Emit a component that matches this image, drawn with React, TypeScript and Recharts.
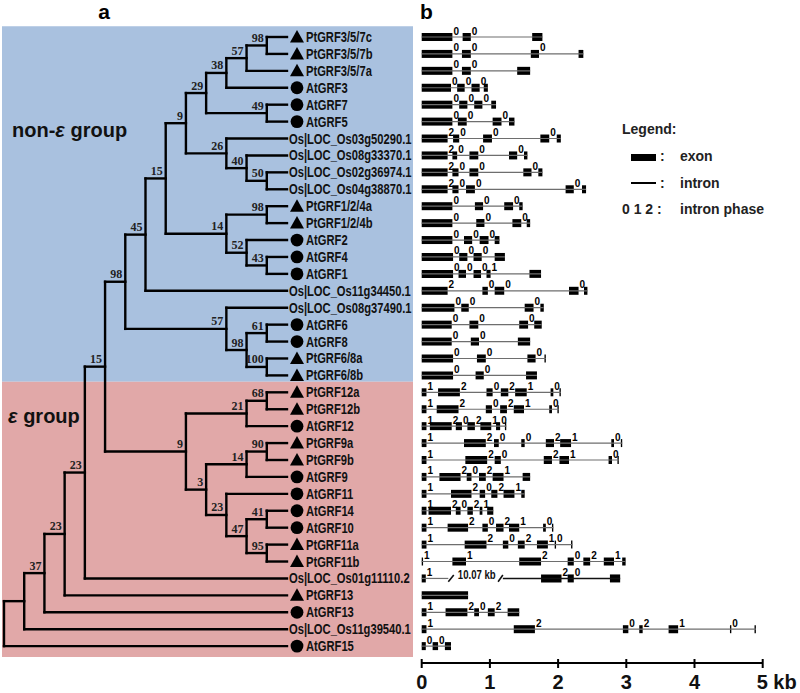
import { ComposedChart, XAxis, YAxis, Scatter, ReferenceLine, ReferenceArea } from "recharts";

// ---- phylogeny (Newick, bootstrap values as internal labels) ----
const cladeGRF357 = "(((PtGRF3/5/7c,PtGRF3/5/7b)98,PtGRF3/5/7a)57,AtGRF3)38";
const cladeGRF57 = "(AtGRF7,AtGRF5)49";
const cladeOsA = "(Os|LOC_Os03g50290.1,(Os|LOC_Os08g33370.1,(Os|LOC_Os02g36974.1,Os|LOC_Os04g38870.1)50)40)26";
const cladeGRF124 = "((PtGRF1/2/4a,PtGRF1/2/4b)98,(AtGRF2,(AtGRF4,AtGRF1)43)52)14";
const cladeGRF68 = "(Os|LOC_Os08g37490.1,((AtGRF6,AtGRF8)61,(PtGRF6/8a,PtGRF6/8b)100)98)57";
const cladeEps = "(((PtGRF12a,PtGRF12b)68,AtGRF12)21,(((PtGRF9a,PtGRF9b)90,AtGRF9)14,(AtGRF11,((AtGRF14,AtGRF10)41,(PtGRF11a,PtGRF11b)95)47)23)3)9";
const cladeNonEps = `((((${cladeGRF357},${cladeGRF57})29,${cladeOsA})9,${cladeGRF124})15,Os|LOC_Os11g34450.1)45`;
const newick = `(((((((${cladeNonEps},${cladeGRF68})98,${cladeEps})15,Os|LOC_Os01g11110.2)23,PtGRF13)23,AtGRF13)37,Os|LOC_Os11g39540.1),AtGRF15);`;

// shaded groups, by leaf index (top to bottom)
const groupNames = ["non-ε group", "ε group"];
const groupFirst = [0, 21];
const groupLast = [20, 36];

// ---- gene structures, kb, one row per leaf in tree order ----
const exonRows: number[][][] = [
  [[0, 0.45], [0.6, 0.72], [1.62, 1.77]], // PtGRF3/5/7c
  [[0, 0.45], [0.59, 0.72], [1.6, 1.72], [2.3, 2.37]], // PtGRF3/5/7b
  [[0, 0.45], [0.59, 0.72], [1.4, 1.59]], // PtGRF3/5/7a
  [[0, 0.43], [0.52, 0.63], [0.73, 0.85], [0.91, 0.97]], // AtGRF3
  [[0, 0.45], [0.55, 0.67], [0.77, 0.89], [1.02, 1.09]], // AtGRF7
  [[0, 0.45], [0.53, 0.66], [1.04, 1.17], [1.28, 1.36]], // AtGRF5
  [[0, 0.38], [0.46, 0.55], [0.9, 1.03], [1.74, 1.87], [1.98, 2.04]], // Os03g50290.1
  [[0, 0.38], [0.45, 0.52], [0.7, 0.83], [1.28, 1.4], [1.5, 1.55]], // Os08g33370.1
  [[0, 0.38], [0.45, 0.54], [0.7, 0.83], [1.49, 1.61], [1.71, 1.77]], // Os02g36974.1
  [[0, 0.38], [0.45, 0.54], [0.65, 0.78], [2.11, 2.23], [2.35, 2.41]], // Os04g38870.1
  [[0, 0.45], [0.78, 0.9], [1.21, 1.34], [1.43, 1.48]], // PtGRF1/2/4a
  [[0, 0.45], [0.8, 0.92], [1.33, 1.46], [1.54, 1.59]], // PtGRF1/2/4b
  [[0, 0.45], [0.62, 0.74], [0.85, 0.98], [1.07, 1.14]], // AtGRF2
  [[0, 0.46], [0.55, 0.67], [0.76, 0.88], [1.07, 1.22]], // AtGRF4
  [[0, 0.46], [0.54, 0.65], [0.76, 0.87], [0.95, 1.01], [1.58, 1.75]], // AtGRF1
  [[0, 0.38], [0.89, 0.97], [1.07, 1.21], [2.16, 2.3], [2.38, 2.43]], // Os11g34450.1
  [[0, 0.48], [0.58, 0.69], [1.51, 1.64], [1.74, 1.79]], // Os08g37490.1
  [[0, 0.44], [0.7, 0.83], [1.43, 1.56], [1.65, 1.76]], // AtGRF6
  [[0, 0.44], [0.72, 0.84], [1.41, 1.59]], // AtGRF8
  [[0, 0.46], [0.81, 0.94], [1.55, 1.67], [1.8, 1.82]], // PtGRF6/8a
  [[0, 0.46], [0.79, 0.91], [1.53, 1.69]], // PtGRF6/8b
  [[0, 0.07], [0.24, 0.56], [0.95, 1.04], [1.16, 1.27], [1.37, 1.54], [1.89, 1.93], [2.02, 2.04]], // PtGRF12a
  [[0, 0.07], [0.22, 0.54], [0.94, 1.03], [1.15, 1.25], [1.35, 1.5], [1.87, 1.91], [1.99, 2.01]], // PtGRF12b
  [[0, 0.07], [0.12, 0.44], [0.5, 0.59], [0.67, 0.78], [0.86, 1.02], [1.09, 1.15], [1.22, 1.24]], // AtGRF12
  [[0, 0.07], [0.62, 0.94], [1.06, 1.13], [1.46, 1.51], [1.82, 1.94], [2.03, 2.19], [2.78, 2.82], [2.92, 2.94]], // PtGRF9a
  [[0, 0.07], [0.64, 0.96], [1.07, 1.16], [1.79, 1.91], [2.02, 2.16], [2.74, 2.79], [2.87, 2.89]], // PtGRF9b
  [[0, 0.07], [0.26, 0.57], [0.66, 0.73], [0.84, 0.94], [1.04, 1.2], [1.48, 1.59]], // AtGRF9
  [[0, 0.07], [0.43, 0.73], [0.85, 0.93], [1.02, 1.11], [1.2, 1.36], [1.46, 1.51]], // AtGRF11
  [[0, 0.07], [0.1, 0.43], [0.5, 0.57], [0.67, 0.75], [0.85, 0.89], [0.96, 1.05]], // AtGRF14
  [[0, 0.07], [0.38, 0.68], [0.89, 0.97], [1.09, 1.2], [1.28, 1.43], [1.78, 1.82], [1.91, 1.93]], // AtGRF10
  [[0, 0.07], [0.63, 0.95], [1.19, 1.27], [1.41, 1.51], [1.69, 1.85], [1.95, 1.97], [2.19, 2.21]], // PtGRF11a
  [[0, 0.02], [0.45, 0.65], [1.43, 1.75], [2.14, 2.23], [2.37, 2.47], [2.67, 2.82], [2.94, 2.99]], // PtGRF11b
  [[0, 0.06], [1.75, 2.05], [2.14, 2.23], [2.76, 2.91]], // Os01g11110.2
  [[0, 0.68]], // PtGRF13
  [[0, 0.07], [0.35, 0.67], [0.77, 0.84], [0.97, 1.07], [1.26, 1.43]], // AtGRF13
  [[0, 0.07], [1.35, 1.66], [2.95, 3.03], [3.19, 3.24], [3.62, 3.76], [4.52, 4.54], [4.88, 4.9]], // Os11g39540.1
  [[0, 0.06], [0.16, 0.24], [0.34, 0.43]], // AtGRF15
];

// intron phase after each exon (except the last)
const phaseRows: number[][] = [
  [0, 0], [0, 0, 0], [0, 0], [0, 0, 0], [0, 0, 0], [0, 0, 0],
  [2, 0, 0, 0], [2, 0, 0, 0], [2, 0, 0, 0], [2, 0, 0, 0],
  [0, 0, 0], [0, 0, 0], [0, 0, 0], [0, 0, 0], [0, 0, 0, 1],
  [2, 0, 0, 0], [0, 0, 0], [0, 0, 0], [0, 0], [0, 0, 0], [0, 0],
  [1, 2, 0, 2, 1, 0], [1, 2, 0, 2, 1, 0], [1, 2, 0, 2, 1, 0],
  [1, 2, 0, 0, 2, 1, 0], [1, 2, 0, 2, 1, 0], [1, 2, 0, 2, 1], [1, 2, 0, 2, 1], [1, 2, 0, 2, 1],
  [1, 2, 0, 2, 1, 0], [1, 2, 0, 2, 1, 0], [1, 1, 2, 0, 2, 1],
  [1, 2, 0], [], [1, 2, 0, 2], [1, 2, 0, 2, 1, 0], [0, 0],
];

// the one long intron that is drawn broken
const breakRow = 32;
const breakGap = [0.39, 1.19];
const breakText = "10.07 kb";
const breakTextAt = 0.53;

const kbTicks = [0, 1, 2, 3, 4, 5];

// ---- layout ----
const W = 800;
const H = 693;
const AXIS_H = 30;
const ROW = 16.92;
const ROW0 = 37;
const yDomain = [-ROW0 / ROW, (H - AXIS_H - ROW0) / ROW];
const TREE_W = 415;
const STEP = 20.214;
const X0 = 4;
const treeDomain = [-X0 / STEP, (TREE_W - X0) / STEP];
const EXON_HALF = 4 / ROW;

const SANS = "'Liberation Sans', Arial, sans-serif";
const SERIF = "'Liberation Serif', 'DejaVu Serif', serif";
const BAND_COLORS = ["#a9c1df", "#e1a8a8"];

type TNode = { name?: string; boot?: number; children: TNode[]; x: number; y: number; h: number };

function parseNewick(src: string): TNode {
  let i = 0;
  const label = () => {
    let s = "";
    while (i < src.length && !",();".includes(src[i])) s += src[i++];
    return s;
  };
  const node = (): TNode => {
    if (src[i] === "(") {
      i++;
      const children: TNode[] = [];
      for (;;) {
        children.push(node());
        if (src[i] === ",") { i++; continue; }
        break;
      }
      i++;
      const lab = label();
      return { children, boot: lab ? Number(lab) : undefined, x: 0, y: 0, h: 0 };
    }
    return { name: label(), children: [], x: 0, y: 0, h: 0 };
  };
  return node();
}

const root = parseNewick(newick);
const leaves: TNode[] = [];
const internals: TNode[] = [];
(function place(n: TNode) {
  if (!n.children.length) { n.y = leaves.length; leaves.push(n); return; }
  n.children.forEach(place);
  n.h = 1 + Math.max(...n.children.map((c) => c.h));
  n.y = (n.children[0].y + n.children[n.children.length - 1].y) / 2;
  internals.push(n);
})(root);
[...leaves, ...internals].forEach((n) => { n.x = root.h - n.h; });

const edges: { x1: number; y1: number; x2: number; y2: number }[] = [];
internals.forEach((n) => {
  const ys = n.children.map((c) => c.y);
  edges.push({ x1: n.x, y1: Math.min(...ys), x2: n.x, y2: Math.max(...ys) });
  n.children.forEach((c) => edges.push({ x1: n.x, y1: c.y, x2: c.x, y2: c.y }));
});

const leafPts = leaves.map((l) => ({ x: l.x, y: l.y, name: l.name }));
const bootPts = internals.filter((n) => n.boot !== undefined).map((n) => ({ x: n.x, y: n.y, boot: n.boot }));

const phasePts = exonRows.flatMap((row, r) =>
  phaseRows[r].map((p, k) => ({ x: row[k][1], y: r, phase: p }))
);

const introns = exonRows.flatMap((row, r) => {
  const s = row[0][0];
  const e = row[row.length - 1][1];
  if (r === breakRow) return [{ r, a: s, b: breakGap[0], dark: false }, { r, a: breakGap[1], b: e, dark: true }];
  return [{ r, a: s, b: e, dark: false }];
});

// condensed sans text (Arial Narrow look) by horizontal scaling
const Narrow = ({ x, y, size, bold, children }: any) => (
  <text
    transform={`translate(${x},${y}) scale(0.8,1)`}
    fontSize={size}
    fontWeight={bold ? "bold" : "normal"}
    fontFamily={SANS}
    fill="#111"
  >
    {children}
  </text>
);

const LeafShape = (p: any) => {
  const { cx, cy, payload } = p;
  const sp = String(payload.name).slice(0, 2);
  const mx = cx + 10;
  return (
    <g>
      {sp === "Pt" && <polygon points={`${mx},${cy - 7} ${mx - 7},${cy + 5.5} ${mx + 7},${cy + 5.5}`} fill="#000" />}
      {sp === "At" && <circle cx={mx} cy={cy} r={6.4} fill="#000" />}
      <Narrow x={sp === "Os" ? cx + 2 : cx + 19} y={cy + 5} size={14} bold>
        {payload.name}
      </Narrow>
    </g>
  );
};

const BootShape = (p: any) => (
  <text x={p.cx - 3} y={p.cy - 3.5} textAnchor="end" fontSize={12} fontWeight="bold" fontFamily={SERIF} fill="#222">
    {p.payload.boot}
  </text>
);

const PhaseShape = (p: any) => (
  <text x={p.cx + 1} y={p.cy - 2.5} fontSize={10} fontWeight="bold" fontFamily={SANS} fill="#000">
    {p.payload.phase}
  </text>
);

const BreakLabel = (p: any) => (
  <Narrow x={p.cx} y={p.cy + 1} size={12} bold>
    {p.payload.label}
  </Narrow>
);

const KbTick = (props: any) => {
  const { x, y, payload } = props;
  const last = payload.value === kbTicks[kbTicks.length - 1];
  return (
    <g>
      <line x1={x} x2={x} y1={y - 4} y2={y + 5} stroke="#000" strokeWidth={2} />
      <text x={last ? x - 6 : x} y={y + 26} textAnchor={last ? "start" : "middle"} fontSize={20} fontWeight="bold" fontFamily={SANS} fill="#111">
        {last ? `${payload.value} kb` : payload.value}
      </text>
    </g>
  );
};

export default function App() {
  return (
    <div style={{ position: "relative", width: W, height: H, background: "#fff" }}>
      <style>{"body{margin:0}"}</style>
      <div style={{ position: "absolute", left: 0, top: 0 }}>
        <ComposedChart width={W} height={H} margin={{ top: 0, right: W - TREE_W, bottom: AXIS_H, left: 0 }}>
          <XAxis type="number" dataKey="x" domain={treeDomain} hide allowDataOverflow />
          <YAxis type="number" dataKey="y" domain={yDomain} reversed hide allowDataOverflow />
          {groupNames.map((g, k) => (
            <ReferenceArea
              key={g}
              x1={-2 / STEP}
              x2={(TREE_W - 2 - X0) / STEP}
              y1={groupFirst[k] - (k === 0 ? 0.64 : 0.63)}
              y2={k === 0 ? groupFirst[1] - 0.63 : groupLast[k] + 0.64}
              fill={BAND_COLORS[k]}
              fillOpacity={1}
              stroke="none"
              ifOverflow="visible"
            />
          ))}
          {edges.map((e, k) => (
            <ReferenceLine
              key={k}
              segment={[{ x: e.x1, y: e.y1 }, { x: e.x2, y: e.y2 }]}
              stroke="#000"
              strokeWidth={2.4}
              strokeLinecap="square"
              ifOverflow="visible"
            />
          ))}
          <Scatter data={leafPts} shape={LeafShape} isAnimationActive={false} />
          <Scatter data={bootPts} shape={BootShape} isAnimationActive={false} />
        </ComposedChart>
      </div>
      <div style={{ position: "absolute", left: TREE_W, top: 0 }}>
        <ComposedChart width={W - TREE_W} height={H} margin={{ top: 0, right: 37.3, bottom: 0, left: 6.7 }}>
          <XAxis
            type="number"
            dataKey="x"
            domain={[0, 5]}
            ticks={kbTicks}
            interval={0}
            height={AXIS_H}
            tickLine={false}
            tickSize={0}
            tickMargin={0}
            tick={<KbTick />}
            axisLine={{ stroke: "#000", strokeWidth: 2 }}
            allowDataOverflow
          />
          <YAxis type="number" dataKey="y" domain={yDomain} reversed hide allowDataOverflow />
          {introns.map((s, k) => (
            <ReferenceLine
              key={`i${k}`}
              segment={[{ x: s.a, y: s.r }, { x: s.b, y: s.r }]}
              stroke={s.dark ? "#111" : "#6e6e6e"}
              strokeWidth={s.dark ? 1.6 : 1.2}
              ifOverflow="visible"
            />
          ))}
          <ReferenceLine
            segment={[{ x: breakGap[0], y: breakRow + 0.2 }, { x: breakGap[0] + 0.08, y: breakRow - 0.2 }]}
            stroke="#111"
            strokeWidth={1.6}
            ifOverflow="visible"
          />
          <ReferenceLine
            segment={[{ x: breakGap[1] - 0.07, y: breakRow + 0.2 }, { x: breakGap[1], y: breakRow - 0.2 }]}
            stroke="#111"
            strokeWidth={1.6}
            ifOverflow="visible"
          />
          {exonRows.flatMap((row, r) =>
            row.map(([a, b], k) => (
              <ReferenceArea
                key={`e${r}-${k}`}
                x1={a}
                x2={b}
                y1={r - EXON_HALF}
                y2={r + EXON_HALF}
                fill="#000"
                fillOpacity={1}
                stroke="none"
                ifOverflow="visible"
              />
            ))
          )}
          <Scatter data={phasePts} shape={PhaseShape} isAnimationActive={false} />
          <Scatter data={[{ x: breakTextAt, y: breakRow, label: breakText }]} shape={BreakLabel} isAnimationActive={false} />
        </ComposedChart>
      </div>
      <svg width={W} height={H} style={{ position: "absolute", left: 0, top: 0, pointerEvents: "none" }}>
        <text x={104} y={19} textAnchor="middle" fontSize={21} fontWeight="bold" fontFamily={SANS}>a</text>
        <text x={420} y={19} fontSize={21} fontWeight="bold" fontFamily={SANS}>b</text>
        <text x={12} y={137} fontSize={20} fontWeight="bold" fontFamily={SANS} fill="#111">
          non-<tspan fontStyle="italic">ε</tspan> group
        </text>
        <text x={8} y={423} fontSize={20} fontWeight="bold" fontFamily={SANS} fill="#111">
          <tspan fontStyle="italic">ε</tspan> group
        </text>
        <g fontFamily={SANS} fontWeight="bold" fontSize={14} fill="#222">
          <text x={622} y={134}>Legend:</text>
          <rect x={631} y={154} width={25} height={7} fill="#000" />
          <text x={660} y={161}>:</text>
          <text x={680} y={161}>exon</text>
          <line x1={631} x2={656} y1={183} y2={183} stroke="#000" strokeWidth={2} />
          <text x={660} y={188}>:</text>
          <text x={680} y={188}>intron</text>
          <text x={622} y={214}>0 1 2 :</text>
          <text x={680} y={214}>intron phase</text>
        </g>
      </svg>
    </div>
  );
}
